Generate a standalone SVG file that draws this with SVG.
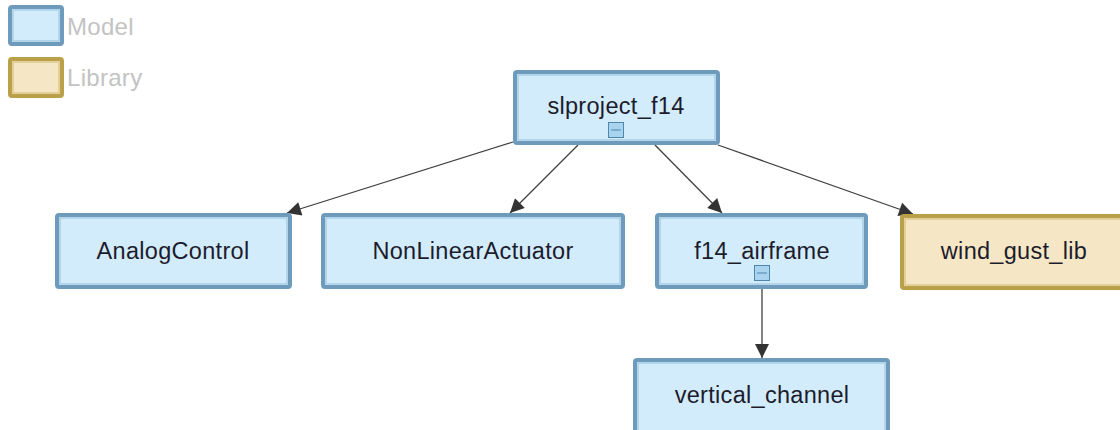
<svg xmlns="http://www.w3.org/2000/svg" width="1120" height="430" viewBox="0 0 1120 430">
<style>
.model rect.b{fill:#d3ecfc;stroke:#6e9bbb;stroke-width:4}
.model rect.i{fill:none;stroke:#a9cde4;stroke-width:1.5}
.lib rect.b{fill:#f5e7c5;stroke:#bba04a;stroke-width:4}
.lib rect.i{fill:none;stroke:#ddc98a;stroke-width:1.5}
text{font-family:"Liberation Sans",Arial,sans-serif;font-size:23.5px;letter-spacing:0.3px;fill:#1c1c2c;text-anchor:middle}
text.leg{fill:#c3c3c3;text-anchor:start;font-size:24px}
.icon{fill:#a9d4f0;stroke:#4f86ad;stroke-width:1}
.edge{stroke:#404040;stroke-width:1.3;fill:none;marker-end:url(#ah)}
</style>
<defs>
<marker id="ah" viewBox="0 0 10 10" refX="10" refY="5" markerWidth="15" markerHeight="14" markerUnits="userSpaceOnUse" orient="auto">
<path d="M0,0 L10,5 L0,10 z" fill="#333"/>
</marker>
</defs>
<rect width="1120" height="430" fill="#fff"/>
<g id="legend">
<g class="model"><rect class="b" x="10" y="7" width="52" height="37" rx="2"/><rect class="i" x="13" y="10" width="46" height="31"/></g>
<text class="leg" x="67" y="35">Model</text>
<g class="lib"><rect class="b" x="10" y="59" width="52" height="37" rx="2"/><rect class="i" x="13" y="62" width="46" height="31"/></g>
<text class="leg" x="67" y="86">Library</text>
</g>
<g id="edges">
<line class="edge" x1="513" y1="142" x2="287" y2="213"/>
<line class="edge" x1="578" y1="145" x2="510" y2="213"/>
<line class="edge" x1="655" y1="145" x2="722" y2="213"/>
<line class="edge" x1="718" y1="145" x2="913" y2="214"/>
<line class="edge" x1="762" y1="282" x2="762" y2="358"/>
</g>
<g id="slproject_f14" class="model">
<rect class="b" x="515" y="72" width="203" height="71" rx="2"/><rect class="i" x="518" y="75" width="197" height="65"/>
<text x="616" y="114">slproject_f14</text>
<rect class="icon" x="608.5" y="122.5" width="15" height="15"/><line x1="611" y1="130" x2="621" y2="130" stroke="#4f86ad" stroke-width="1"/>
</g>
<g id="AnalogControl" class="model">
<rect class="b" x="57" y="215" width="233" height="72" rx="2"/><rect class="i" x="60" y="218" width="227" height="66"/>
<text x="173" y="259">AnalogControl</text>
</g>
<g id="NonLinearActuator" class="model">
<rect class="b" x="323" y="215" width="300" height="72" rx="2"/><rect class="i" x="326" y="218" width="294" height="66"/>
<text x="473" y="259">NonLinearActuator</text>
</g>
<g id="f14_airframe" class="model">
<rect class="b" x="657" y="215" width="209" height="72" rx="2"/><rect class="i" x="660" y="218" width="203" height="66"/>
<text x="762" y="259">f14_airframe</text>
<rect class="icon" x="754.5" y="265.5" width="15" height="15"/><line x1="757" y1="273" x2="767" y2="273" stroke="#4f86ad" stroke-width="1"/>
</g>
<g id="wind_gust_lib" class="lib">
<rect class="b" x="902" y="216" width="240" height="72" rx="2"/><rect class="i" x="905" y="219" width="234" height="66"/>
<text x="1014" y="259">wind_gust_lib</text>
</g>
<g id="vertical_channel" class="model">
<rect class="b" x="635" y="360" width="253" height="80" rx="2"/><rect class="i" x="638" y="363" width="247" height="74"/>
<text x="762" y="403">vertical_channel</text>
</g>
</svg>
